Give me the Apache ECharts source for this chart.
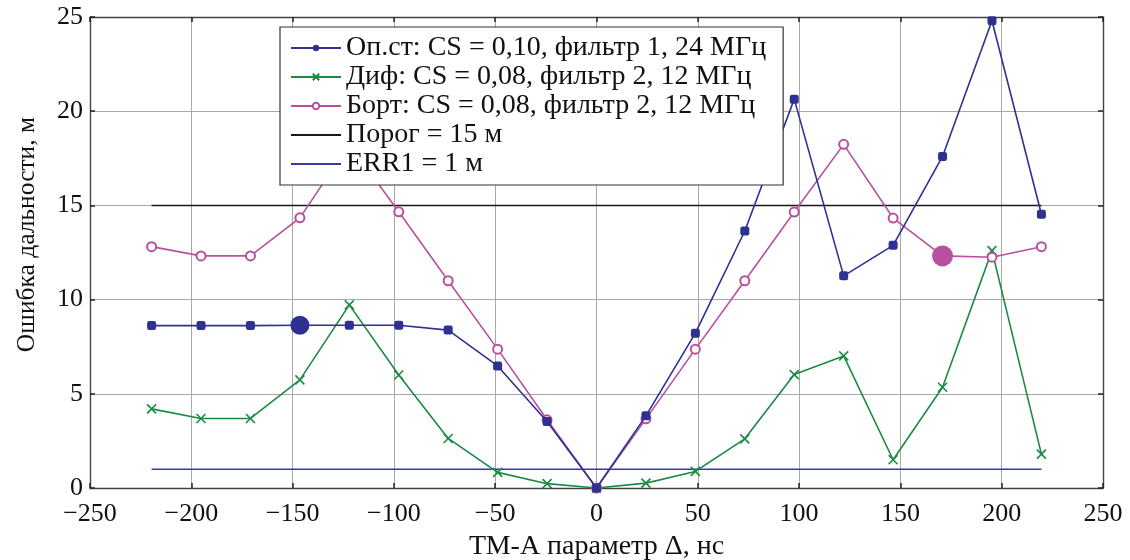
<!DOCTYPE html>
<html>
<head>
<meta charset="utf-8">
<script src="https://cdn.jsdelivr.net/npm/echarts@6/dist/echarts.min.js"></script>
<style>
  html, body { margin: 0; padding: 0; background: #fff; }
  #chart { width: 1130px; height: 560px; }
</style>
</head>
<body>
<div id="chart"></div>
<script>
// TM-A parameter Δ, ns
const deltaNs = [-219.6, -195.2, -170.8, -146.4, -122, -97.6, -73.2, -48.8, -24.4, 0,
                 24.4, 48.8, 73.2, 97.6, 122, 146.4, 170.8, 195.2, 219.6];
// Range error, m
const opSt = [8.62, 8.62, 8.62, 8.64, 8.64, 8.64, 8.38, 6.48, 3.53, 0,
              3.83, 8.22, 13.64, 20.64, 11.26, 12.88, 17.6, 24.8, 14.53];
const dif  = [4.2, 3.69, 3.69, 5.74, 9.72, 6.0, 2.63, 0.83, 0.23, 0,
              0.26, 0.88, 2.61, 6.02, 7.01, 1.5, 5.35, 12.6, 1.8];
const bort = [12.81, 12.32, 12.32, 14.34, 18.25, 14.66, 11.0, 7.37, 3.62, 0,
              3.67, 7.37, 11.0, 14.65, 18.24, 14.33, 12.32, 12.25, 12.81];
const threshold = 15;
const err1 = 1;
// highlighted samples (index into deltaNs)
const opStMarked = [3];
const bortMarked = [16];

const seriesNames = [
  'Оп.ст: CS = 0,10, фильтр 1, 24 МГц',
  'Диф: CS = 0,08, фильтр 2, 12 МГц',
  'Борт: CS = 0,08, фильтр 2, 12 МГц',
  'Порог = 15 м',
  'ERR1 = 1 м'
];
const xRange = { min: -250, max: 250, interval: 50 };
const yRange = { min: 0, max: 25, interval: 5 };

const BLUE = '#2e3192', GREEN = '#1b8a44', MAGENTA = '#b9509f', BLACK = '#1a1a1a', ERRBLUE = '#3b3b9e';
const NONE = 'rgba(0,0,0,0)';
const FONT = 'Liberation Serif';

const pairs = ys => deltaNs.map((x, i) => [x, ys[i]]);
const picked = (ys, idx) => idx.map(i => [deltaNs[i], ys[i]]);
const flat = v => [[deltaNs[0], v], [deltaNs[deltaNs.length - 1], v]];
const minus = v => String(v).replace('-', '\u2212');

const chart = echarts.init(document.getElementById('chart'), null, { renderer: 'canvas' });

const axisLineStyle = { color: '#444', width: 1.4 };
const tickStyle = { show: true, inside: true, length: 5, lineStyle: { color: '#222', width: 1.5 } };
const gridLine = { show: true, lineStyle: { color: '#a8a8a8', width: 1 } };

chart.setOption({
  animation: false,
  backgroundColor: '#fff',
  textStyle: { fontFamily: FONT },
  grid: { left: 90, right: 27, top: 17, bottom: 72, containLabel: false, outerBoundsMode: 'none' },
  legend: {
    data: seriesNames,
    orient: 'vertical',
    left: 280,
    top: 27,
    z: 20,
    padding: [7, 17, 7, 10],
    itemGap: 1,
    itemWidth: 50,
    itemHeight: 8,
    backgroundColor: '#fff',
    borderColor: '#333',
    borderWidth: 1.2,
    borderRadius: 0,
    textStyle: { fontFamily: FONT, fontSize: 28, color: '#111' }
  },
  xAxis: [{
    type: 'value', ...xRange,
    name: 'ТМ-А параметр Δ, нс',
    nameLocation: 'middle', nameGap: 45,
    nameTextStyle: { fontFamily: FONT, fontSize: 28, color: '#111' },
    axisLine: { show: true, onZero: false, lineStyle: axisLineStyle },
    axisTick: tickStyle,
    axisLabel: { fontFamily: FONT, fontSize: 26, color: '#111', margin: 13, formatter: minus },
    splitLine: gridLine
  }, {
    type: 'value', ...xRange, position: 'top',
    axisLine: { show: true, onZero: false, lineStyle: axisLineStyle },
    axisTick: tickStyle, axisLabel: { show: false }, splitLine: { show: false }
  }],
  yAxis: [{
    type: 'value', ...yRange,
    name: 'Ошибка дальности, м',
    nameLocation: 'middle', nameGap: 50, nameRotate: 90,
    nameTextStyle: { fontFamily: FONT, fontSize: 25.5, color: '#111', padding: [0, 0, 0, 36] },
    axisLine: { show: true, onZero: false, lineStyle: axisLineStyle },
    axisTick: tickStyle,
    axisLabel: { fontFamily: FONT, fontSize: 26, color: '#111', margin: 7 },
    splitLine: gridLine
  }, {
    type: 'value', ...yRange, position: 'right',
    axisLine: { show: true, onZero: false, lineStyle: axisLineStyle },
    axisTick: tickStyle, axisLabel: { show: false }, splitLine: { show: false }
  }],
  series: [
    {
      name: seriesNames[3], type: 'line', data: flat(threshold),
      symbol: 'circle', showSymbol: false,
      lineStyle: { color: BLACK, width: 1.5 }, itemStyle: { color: NONE }, z: 2
    },
    {
      name: seriesNames[4], type: 'line', data: flat(err1),
      symbol: 'circle', showSymbol: false,
      lineStyle: { color: ERRBLUE, width: 1.5 }, itemStyle: { color: NONE }, z: 2
    },
    {
      name: seriesNames[1], type: 'line', data: pairs(dif),
      symbol: 'path://M0,0L10,10M0,10L10,0', symbolSize: 9,
      lineStyle: { color: GREEN, width: 1.6 },
      itemStyle: { color: GREEN, borderColor: GREEN, borderWidth: 1.6 }, z: 3
    },
    {
      name: seriesNames[2], type: 'line', data: pairs(bort),
      symbol: 'emptyCircle', symbolSize: 9,
      lineStyle: { color: MAGENTA, width: 1.6 },
      itemStyle: { color: MAGENTA, borderColor: MAGENTA, borderWidth: 1.6 }, z: 4
    },
    {
      // circle in the legend, rounded squares on the curve
      name: seriesNames[0], type: 'line',
      data: pairs(opSt).map(p => ({ value: p, symbol: 'roundRect' })),
      symbol: 'circle', symbolSize: 9,
      lineStyle: { color: BLUE, width: 1.6 },
      itemStyle: { color: BLUE }, z: 5
    },
    {
      name: 'opStMarked', type: 'scatter', data: picked(opSt, opStMarked),
      symbol: 'circle', symbolSize: 19, itemStyle: { color: BLUE, opacity: 1 }, z: 6
    },
    {
      name: 'bortMarked', type: 'scatter', data: picked(bort, bortMarked),
      symbol: 'circle', symbolSize: 21, itemStyle: { color: MAGENTA, opacity: 1 }, z: 6
    }
  ]
});
</script>
</body>
</html>
